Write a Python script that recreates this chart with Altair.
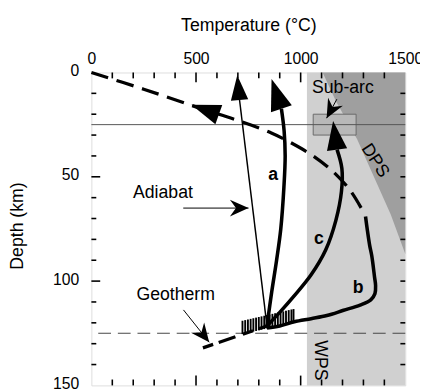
import math
import altair as alt
import pandas as pd

W, H = 320, 319
TMAX, DMAX = 1500, 150
FONT = "Liberation Sans"

# ---------------- data ----------------
# shaded stability fields
wps_T = [1030, 1500]            # wet peridotite solidus field (light)
wps_D = [0, 150]
dps_bound_T = [1105, 1170, 1270, 1350, 1430, 1500]   # dry peridotite solidus boundary
dps_bound_D = [0, 14, 32, 50, 68, 87]
subarc_T = [1060, 1265]
subarc_D = [20, 30]
ref_solid_D = [25]
ref_dash_D = [125]

# geotherm (dashed)
geo_T = [0, 250, 500, 700, 860, 950, 1060, 1160, 1240, 1295]
geo_D = [0, 8, 16.5, 23, 29, 33.5, 40, 48, 57, 66]
geo2_T = [533, 839]
geo2_D = [132, 121.5]

# adiabat (thin)
adiabat_T = [839, 708]
adiabat_D = [121.5, 13.2]

# P-T paths a, b, c (thick)
a_T = [839, 862, 885, 905, 920, 926, 921, 908]
a_D = [121.5, 105, 90, 75, 55, 40, 28, 17.4]
b_T = [839, 900, 970, 1050, 1125, 1205, 1284, 1335, 1355, 1358, 1353, 1340, 1330, 1318, 1310]
b_D = [122.5, 121.5, 119.5, 118, 116.5, 114, 111.5, 109, 106, 102, 98, 88, 83, 75, 69]
c_T = [839, 900, 970, 1050, 1120, 1168, 1195, 1197, 1174]
c_D = [121.5, 115, 107, 97, 85, 71, 57, 46, 37]

# source region hatching
hatch_T = [722, 735, 748, 761, 774, 787, 800, 813, 826, 839, 852, 865, 878, 891, 904, 917, 930, 943, 956, 966]
hatch_top = [119.0, 118.7, 118.4, 118.1, 117.8, 117.5, 117.2, 116.9, 116.6, 116.3, 116.0, 115.7, 115.4, 115.1, 114.8, 114.5, 114.2, 113.9, 113.6, 113.4]
hatch_bot = [125.4, 125.1, 124.8, 124.5, 124.2, 123.9, 123.6, 123.3, 123.0, 122.7, 122.4, 122.1, 121.8, 121.5, 121.2, 120.9, 120.6, 120.3, 120.0, 119.8]

# filled arrowheads on paths: adiabat, a, c, geotherm
arrow_tip_T = [697, 861, 1155, 478]
arrow_tip_D = [1.3, 3.1, 23.2, 15.5]
arrow_base_T = [708, 908, 1174, 609]
arrow_base_D = [13.2, 17.4, 37, 20.2]

# label pointer arrows: Adiabat, Geotherm, Sub-arc
lab_from_T = [439, 440, 1173]
lab_from_D = [65, 113.8, 12.8]
lab_tip_T = [751, 563, 1124]
lab_tip_D = [65, 129.3, 21.9]

# text labels
label_text = ["Sub-arc", "Adiabat", "Geotherm"]
label_T = [1202, 342, 403]
label_D = [7.5, 57.8, 106.6]
path_text = ["a", "b", "c"]
path_T = [869, 1275, 1087]
path_D = [49.4, 103.4, 80]
field_text = ["DPS", "WPS"]
field_T = [1355, 1092]
field_D = [42.3, 138]
field_angle = [57, 90]

# axis ticks
x_ticks = [100, 200, 300, 400, 500, 600, 700, 800, 900, 1000, 1100, 1200, 1300, 1400]
y_ticks = [10, 20, 30, 40, 50, 60, 70, 80, 90, 100, 110, 120, 130, 140]

# ---------------- helpers ----------------
xscale = alt.Scale(domain=[0, TMAX], nice=False, zero=False)
yscale = alt.Scale(domain=[0, DMAX], nice=False, zero=False, reverse=True)
xaxis = alt.Axis(orient="top", values=[0, 500, 1000, 1500], format="d", title="Temperature (°C)",
                 ticks=False, domain=False, grid=False, labelFontSize=16, labelPadding=6,
                 titleFontSize=18, titleFontWeight="normal", titleX=160, titleY=-48,
                 titleBaseline="middle", labelFlush=False)
yaxis = alt.Axis(orient="left", values=[0, 50, 100, 150], format="d", title="Depth (km)",
                 ticks=False, domain=False, grid=False, labelFontSize=16, labelPadding=13,
                 titleFontSize=18, titleFontWeight="normal", titleX=-75, titleY=156,
                 titleBaseline="middle", labelOffset=-2, labelFlush=False)


def X(f="T"):
    return alt.X(f"{f}:Q", scale=xscale, axis=xaxis)


def Y(f="D"):
    return alt.Y(f"{f}:Q", scale=yscale, axis=yaxis)


def screen_angle(t0, d0, t1, d1):
    dx = (t1 - t0) * W / TMAX
    dy = (d1 - d0) * H / DMAX
    return math.degrees(math.atan2(dx, -dy)) % 360, math.hypot(dx, dy)


def path_df(Ts, Ds, name=""):
    return pd.DataFrame({"T": Ts, "D": Ds, "i": list(range(len(Ts))), "p": name})


# ---------------- layers ----------------
wps = alt.Chart(pd.DataFrame({"T": [wps_T[0]], "T2": [wps_T[1]], "D": [wps_D[0]], "D2": [wps_D[1]]})).mark_rect(
    color="#d0d0d0").encode(x=X(), x2="T2", y=Y(), y2="D2")

dps = alt.Chart(pd.DataFrame({"T": dps_bound_T, "D": dps_bound_D, "T2": [TMAX] * len(dps_bound_T)})).mark_area(
    orient="horizontal", color="#9f9f9f").encode(y=Y(), x=X(), x2="T2")

subarc = alt.Chart(pd.DataFrame({"T": [subarc_T[0]], "T2": [subarc_T[1]], "D": [subarc_D[0]], "D2": [subarc_D[1]]})).mark_rect(
    fill="#b8b8b8", stroke="#6a6a6a", strokeWidth=1).encode(x=X(), x2="T2", y=Y(), y2="D2")

ref_solid = alt.Chart(pd.DataFrame({"D": ref_solid_D})).mark_rule(color="#555555", strokeWidth=1).encode(y=Y())
ref_dash = alt.Chart(pd.DataFrame({"D": ref_dash_D})).mark_rule(
    color="#444444", strokeWidth=1, strokeDash=[13, 7]).encode(y=Y())

geo = alt.Chart(path_df(geo_T, geo_D)).mark_line(
    color="black", strokeWidth=3.3, strokeDash=[18, 9], interpolate="catmull-rom").encode(
    x=X(), y=Y(), order="i:Q")
geo2 = alt.Chart(path_df(geo2_T, geo2_D)).mark_line(
    color="black", strokeWidth=3.3, strokeDash=[11, 6, 18, 8]).encode(x=X(), y=Y(), order="i:Q")

adiabat = alt.Chart(path_df(adiabat_T, adiabat_D)).mark_line(color="black", strokeWidth=1.5).encode(
    x=X(), y=Y(), order="i:Q")

paths = pd.concat([path_df(a_T, a_D, "a"), path_df(b_T, b_D, "b"), path_df(c_T, c_D, "c")])
thick = alt.Chart(paths).mark_line(color="black", strokeWidth=3.6, interpolate="catmull-rom").encode(
    x=X(), y=Y(), order="i:Q", detail="p:N")

hatch = alt.Chart(pd.DataFrame({"T": hatch_T, "D": hatch_top, "D2": hatch_bot})).mark_rule(
    color="black", strokeWidth=1.9).encode(x=X(), y=Y(), y2="D2")

arr_rows = []
for t1, d1, t0, d0 in zip(arrow_tip_T, arrow_tip_D, arrow_base_T, arrow_base_D):
    ang, L = screen_angle(t0, d0, t1, d1)
    arr_rows.append({"T": t1, "D": d1, "ang": ang, "size": L * L})
arrows = alt.Chart(pd.DataFrame(arr_rows)).mark_point(
    shape="M0,0L-0.7,2L0.7,2Z", filled=True, color="black", opacity=1, strokeWidth=0).encode(
    x=X(), y=Y(), angle=alt.Angle("ang:Q", scale=None), size=alt.Size("size:Q", scale=None))

lab_lines = pd.concat([path_df([a, b], [c, d], str(k)) for k, (a, c, b, d) in
                       enumerate(zip(lab_from_T, lab_from_D, lab_tip_T, lab_tip_D))])
pointer_lines = alt.Chart(lab_lines).mark_line(color="black", strokeWidth=1).encode(
    x=X(), y=Y(), order="i:Q", detail="p:N")
lab_rows = []
for t0, d0, t1, d1 in zip(lab_from_T, lab_from_D, lab_tip_T, lab_tip_D):
    ang, L = screen_angle(t0, d0, t1, d1)
    lab_rows.append({"T": t1, "D": d1, "ang": ang, "size": 19 * 19})
pointer_heads = alt.Chart(pd.DataFrame(lab_rows)).mark_point(
    shape="M0,0L-0.9,2L0,1.35L0.9,2Z", filled=True, color="black", opacity=1, strokeWidth=0).encode(
    x=X(), y=Y(), angle=alt.Angle("ang:Q", scale=None), size=alt.Size("size:Q", scale=None))

labels = alt.Chart(pd.DataFrame({"T": label_T, "D": label_D, "txt": label_text})).mark_text(
    font=FONT, fontSize=18, color="black", align="center", baseline="middle").encode(
    x=X(), y=Y(), text="txt:N")
plabels = alt.Chart(pd.DataFrame({"T": path_T, "D": path_D, "txt": path_text})).mark_text(
    font=FONT, fontSize=18, fontWeight="bold", color="black", align="center", baseline="middle").encode(
    x=X(), y=Y(), text="txt:N")
flabels = alt.Chart(pd.DataFrame({"T": field_T, "D": field_D, "txt": field_text, "ang": field_angle})).mark_text(
    font=FONT, fontSize=18, color="black", align="center", baseline="middle").encode(
    x=X(), y=Y(), text="txt:N", angle=alt.Angle("ang:Q", scale=None))

# inward ticks
xt = pd.DataFrame({"T": x_ticks, "major": [t % 500 == 0 for t in x_ticks]})
yt = pd.DataFrame({"D": y_ticks, "major": [d % 50 == 0 for d in y_ticks]})
tick_layers = []
for major, ln in [(False, 6), (True, 10)]:
    sx = xt[xt["major"] == major]
    sy = yt[yt["major"] == major]
    tick_layers.append(alt.Chart(sx).mark_rule(color="black", strokeWidth=1.6).encode(
        x=X(), y=alt.value(0), y2=alt.value(ln)))
    tick_layers.append(alt.Chart(sx).mark_rule(color="black", strokeWidth=1.6).encode(
        x=X(), y=alt.value(H), y2=alt.value(H - ln)))
    tick_layers.append(alt.Chart(sy).mark_rule(color="black", strokeWidth=1.6).encode(
        y=Y(), x=alt.value(0), x2=alt.value(ln - 1)))
tick_layers.append(alt.Chart(yt).mark_rule(color="black", strokeWidth=1.6).encode(
    y=Y(), x=alt.value(W), x2=alt.value(W - 5)))

chart = alt.layer(
    wps, dps, subarc, ref_solid, ref_dash, geo, geo2, adiabat, thick, hatch,
    arrows, pointer_lines, pointer_heads, labels, plabels, flabels, *tick_layers
).properties(
    width=W, height=H,
    autosize=alt.AutoSizeParams(type="none"),
    padding={"left": 85, "top": 62, "right": 15, "bottom": 4},
).configure_view(
    stroke="black", strokeWidth=2
).configure_axis(
    labelFont=FONT, titleFont=FONT, labelColor="black", titleColor="black"
).configure(background="white")

chart.save("out.html", embed_options={"renderer": "svg", "actions": False})
